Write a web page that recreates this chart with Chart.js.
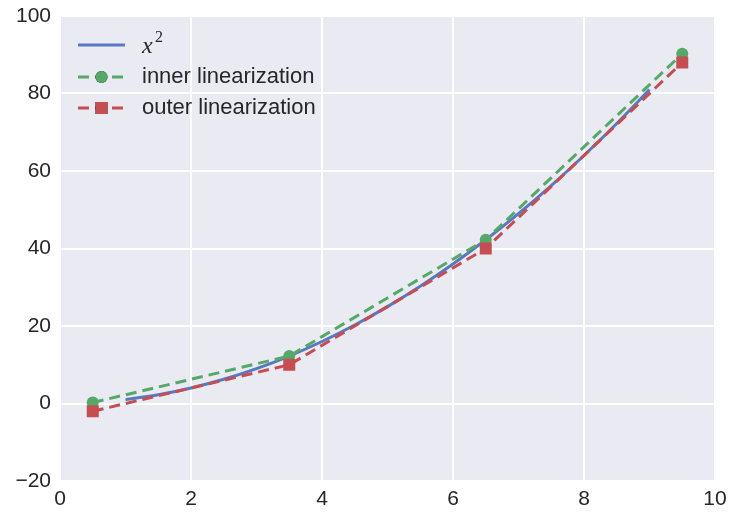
<!DOCTYPE html>
<html>
<head>
<meta charset="utf-8">
<script src="https://cdn.jsdelivr.net/npm/chart.js@4.4.1/dist/chart.umd.min.js"></script>
<style>
  html, body { margin: 0; padding: 0; background: #fff; }
  #wrap { width: 729px; height: 512px; }
</style>
</head>
<body>
<div id="wrap"><canvas id="grafico" width="729" height="512"></canvas></div>
<script>
// Curva x^2 (de x=1 até x=9)
const curvaX = [1, 1.5, 2, 2.5, 3, 3.5, 4, 4.5, 5, 5.5, 6, 6.5, 7, 7.5, 8, 8.5, 9];
const curvaY = [1, 2.25, 4, 6.25, 9, 12.25, 16, 20.25, 25, 30.25, 36, 42.25, 49, 56.25, 64, 72.25, 81];
// Linearização interna e externa
const pontosX = [0.5, 3.5, 6.5, 9.5];
const internaY = [0.25, 12.25, 42.25, 90.25];
const externaY = [-2, 10, 40, 88];
// Ticks
const ticksX = [0, 2, 4, 6, 8, 10];
const ticksY = [-20, 0, 20, 40, 60, 80, 100];
const nomes = ['x2', 'inner linearization', 'outer linearization'];

const corTexto = '#262626';
const fonte = 'Liberation Sans, Arial, sans-serif';

function pares(xs, ys) {
  return xs.map((x, i) => ({ x: x, y: ys[i] }));
}

// Fundo cinza da área do gráfico
const fundo = {
  id: 'fundo',
  beforeDraw(chart) {
    const a = chart.chartArea;
    const ctx = chart.ctx;
    ctx.save();
    ctx.fillStyle = '#EAEAF2';
    ctx.fillRect(a.left, a.top, a.right - a.left, a.bottom - a.top);
    ctx.restore();
  }
};

// Legenda no estilo matplotlib (linha + marcador no meio)
const legenda = {
  id: 'legenda',
  afterDraw(chart) {
    const ctx = chart.ctx;
    const x0 = 78, x1 = 125, xt = 142;
    const linhas = [45, 77, 108];
    chart.data.datasets.forEach((ds, i) => {
      const y = linhas[i];
      ctx.save();
      ctx.strokeStyle = ds.borderColor;
      ctx.lineWidth = ds.borderWidth;
      ctx.setLineDash(ds.borderDash || []);
      ctx.beginPath();
      ctx.moveTo(x0, y);
      ctx.lineTo(x1, y);
      ctx.stroke();
      ctx.setLineDash([]);
      if (ds.pointRadius > 0) {
        Chart.helpers.drawPoint(ctx, {
          pointStyle: ds.pointStyle,
          radius: ds.pointRadius,
          borderWidth: 0
        }, (x0 + x1) / 2, y);
        ctx.fillStyle = ds.backgroundColor;
        ctx.fill();
      }
      ctx.fillStyle = corTexto;
      ctx.textBaseline = 'middle';
      if (i === 0) {
        ctx.font = 'italic 24px "Liberation Serif", "DejaVu Serif", serif';
        ctx.fillText('x', xt, y + 2);
        ctx.font = '16px "Liberation Serif", "DejaVu Serif", serif';
        ctx.fillText('2', xt + 13, y - 7);
      } else {
        ctx.font = '22px ' + fonte;
        ctx.fillText(ds.label, xt, y);
      }
      ctx.restore();
    });
  }
};

function semPadding(s) {
  s.paddingLeft = 0;
  s.paddingRight = 0;
  s.paddingTop = 0;
  s.paddingBottom = 0;
}

Chart.defaults.font.family = fonte;
Chart.defaults.font.size = 21;
Chart.defaults.color = corTexto;

new Chart(document.getElementById('grafico').getContext('2d'), {
  type: 'line',
  data: {
    datasets: [
      {
        label: nomes[0],
        data: pares(curvaX, curvaY),
        borderColor: '#5878C0',
        backgroundColor: '#5878C0',
        borderWidth: 3,
        pointRadius: 0,
        cubicInterpolationMode: 'monotone',
        order: 2
      },
      {
        label: nomes[1],
        data: pares(pontosX, internaY),
        borderColor: '#55A868',
        backgroundColor: '#55A868',
        borderWidth: 3,
        borderDash: [11, 6],
        pointStyle: 'circle',
        pointRadius: 6,
        pointBorderWidth: 0,
        pointHoverRadius: 6,
        order: 1
      },
      {
        label: nomes[2],
        data: pares(pontosX, externaY),
        borderColor: '#C44E52',
        backgroundColor: '#C44E52',
        borderWidth: 3,
        borderDash: [11, 6],
        pointStyle: 'rect',
        pointRadius: 8.5,
        pointBorderWidth: 0,
        pointHoverRadius: 8.5,
        order: 0
      }
    ]
  },
  options: {
    responsive: false,
    animation: false,
    layout: { padding: { left: 0, top: 16, right: 14, bottom: 0 } },
    plugins: {
      legend: { display: false },
      tooltip: { enabled: false }
    },
    scales: {
      x: {
        type: 'linear',
        min: 0,
        max: 10,
        afterBuildTicks: (s) => { s.ticks = ticksX.map((v) => ({ value: v })); },
        afterFit: (s) => { s.height = 31; semPadding(s); },
        ticks: { padding: 6, color: corTexto, font: { size: 21 } },
        grid: { color: '#FFFFFF', lineWidth: 2, drawTicks: false },
        border: { display: false }
      },
      y: {
        type: 'linear',
        min: -20,
        max: 100,
        afterBuildTicks: (s) => { s.ticks = ticksY.map((v) => ({ value: v })); },
        afterFit: (s) => { s.width = 60; semPadding(s); },
        ticks: {
          padding: 9,
          color: corTexto,
          font: { size: 21 },
          callback: (v) => String(v).replace('-', '\u2212')
        },
        grid: { color: '#FFFFFF', lineWidth: 2, drawTicks: false },
        border: { display: false }
      }
    }
  },
  plugins: [fundo, legenda]
});
</script>
</body>
</html>
